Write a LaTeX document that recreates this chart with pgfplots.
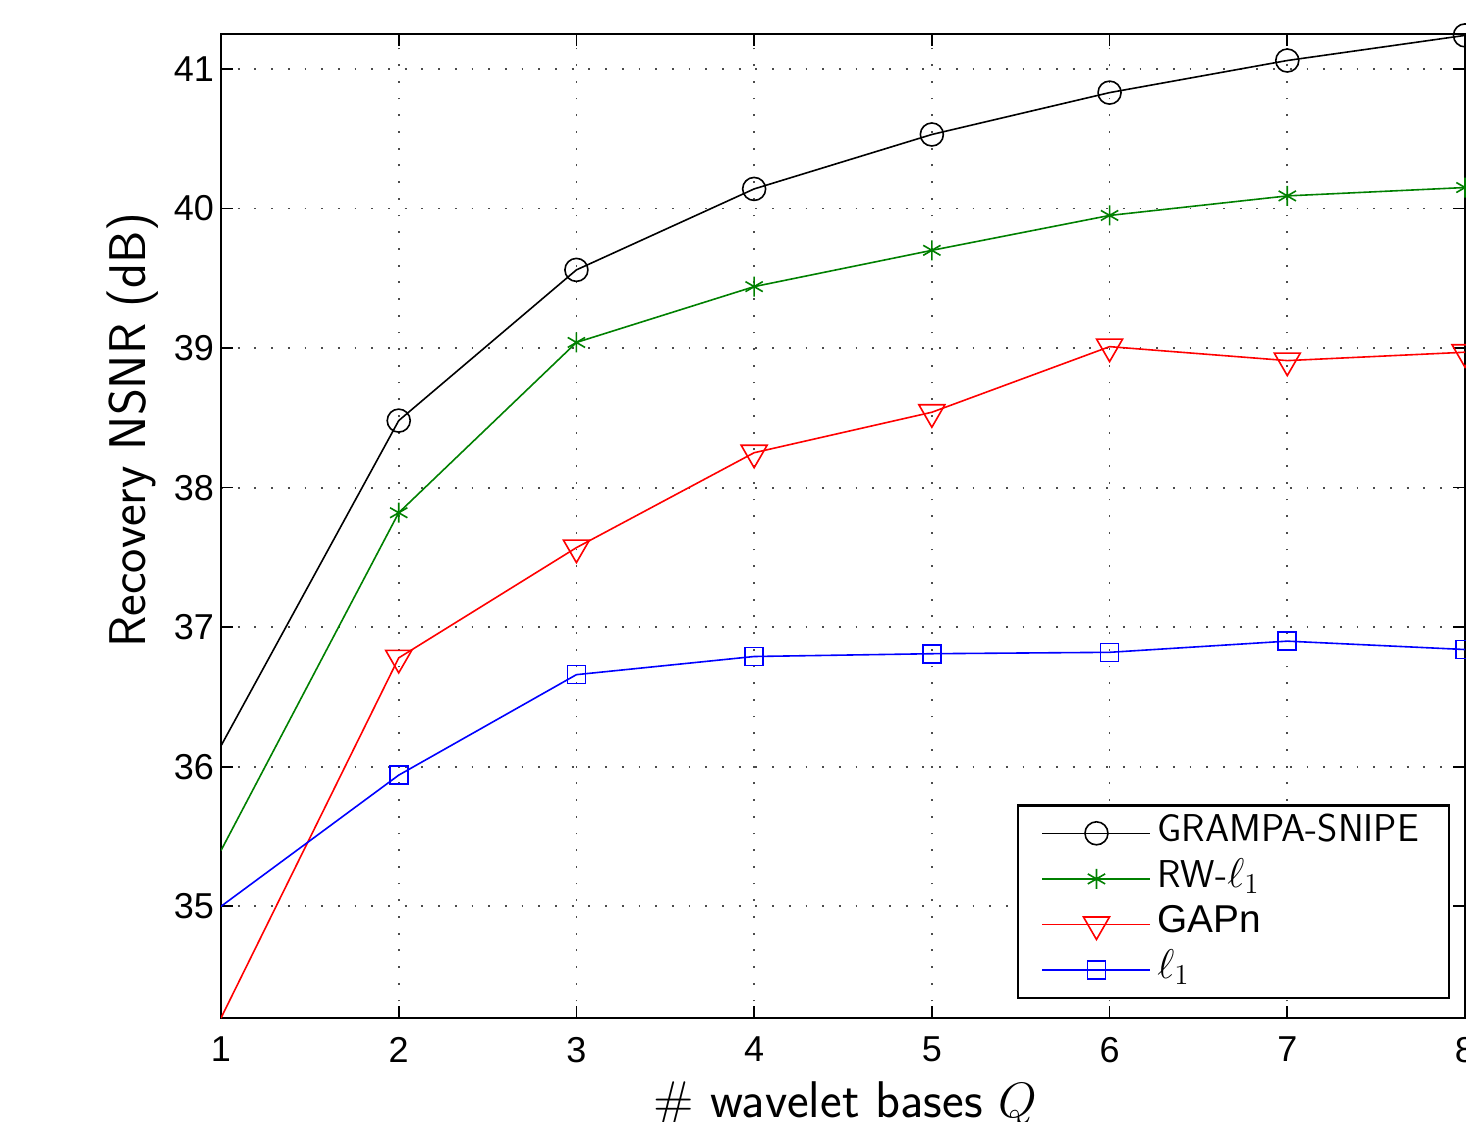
\documentclass[border=0pt]{standalone}
\usepackage{fontspec}
\usepackage{pgfplots}
\pgfplotsset{compat=1.18}
\usetikzlibrary{calc}
\newfontfamily\arial{Liberation Sans}
\definecolor{mgreen}{rgb}{0,0.5,0}
\begin{document}
\begin{tikzpicture}
\begin{axis}[name=ax, at={(0,0)}, anchor=south west,
  scale only axis, width=622pt, height=492pt,
  xmin=1, xmax=8, ymin=34.2, ymax=41.25,
  xtick={1,...,8}, ytick={35,...,41},
  axis line style={line width=0.85pt},
  tick style={line width=0.85pt, black},
  major tick length=6pt, tick align=inside,
  grid=major,
  major grid style={line width=0.9pt, dash pattern=on 0.9pt off 7.45pt, black!70},
  /pgf/number format/assume math mode=true,
  ticklabel style={font=\arial\fontsize{18}{18}\selectfont},
  xticklabel style={yshift=-6pt},
  ylabel={\sffamily Recovery NSNR (dB)},
  ylabel style={at={(axis description cs:-0.0707,0.5976)}, anchor=center, font=\sffamily\fontsize{25.8}{25.8}\selectfont},
  xlabel={\sffamily \# wavelet bases $Q$},
  xlabel style={at={(axis description cs:0.502,-0.1016)}, anchor=base, font=\sffamily\fontsize{25.8}{25.8}\selectfont},
  legend cell align=left,
  legend style={at={(1,0)}, anchor=south east, xshift=-7.5pt, yshift=9.5pt,
    draw=black, line width=1.1pt, inner xsep=12pt, inner ysep=2.5pt,
    font=\sffamily\fontsize{19.4}{19.4}\selectfont,
    nodes={inner sep=3pt, text height=12.6pt, text depth=4.2pt},
    /tikz/every even column/.append style={column sep=7.5pt}},
  legend image code/.code={\draw[line width=0.8pt, mark indices={2}] plot coordinates {(0pt,0pt) (27pt,0pt) (54pt,0pt)};},
  every axis plot/.append style={line width=0.8pt},
]
\addplot[black, mark=o, mark indices={2,3,4,5,6,7,8}, mark size=5.75pt, mark options={line width=0.8pt}] coordinates {
(1,36.15) (2,38.48) (3,39.56) (4,40.14) (5,40.53) (6,40.83) (7,41.06) (8,41.24)};
\addlegendentry{GRAMPA-SNIPE}
\addplot[mgreen, mark=asterisk, mark indices={2,3,4,5,6,7,8}, mark size=5pt, mark options={line width=0.8pt}] coordinates {
(1,35.40) (2,37.82) (3,39.04) (4,39.44) (5,39.70) (6,39.95) (7,40.09) (8,40.15)};
\addlegendentry{RW-$\ell_1$}
\addplot[red, mark=triangle, mark indices={2,3,4,5,6,7,8}, mark size=7.5pt, mark options={rotate=180, line width=0.8pt}] coordinates {
(1,34.2) (2,36.78) (3,37.57) (4,38.25) (5,38.54) (6,39.01) (7,38.91) (8,38.97)};
\addlegendentry{{\arial\fontsize{19.4}{19.4}\selectfont GAPn}}
\addplot[blue, mark=square, mark indices={2,3,4,5,6,7,8}, mark size=4.5pt, mark options={line width=0.8pt}] coordinates {
(1,35.00) (2,35.94) (3,36.66) (4,36.79) (5,36.81) (6,36.82) (7,36.90) (8,36.84)};
\addlegendentry{$\ell_1$}
\end{axis}
\pgfresetboundingbox
\path[use as bounding box] ($(ax.south west)+(-110.5pt,-51.5pt)$) rectangle ($(ax.north east)+(0.5pt,17pt)$);
\end{tikzpicture}
\end{document}
